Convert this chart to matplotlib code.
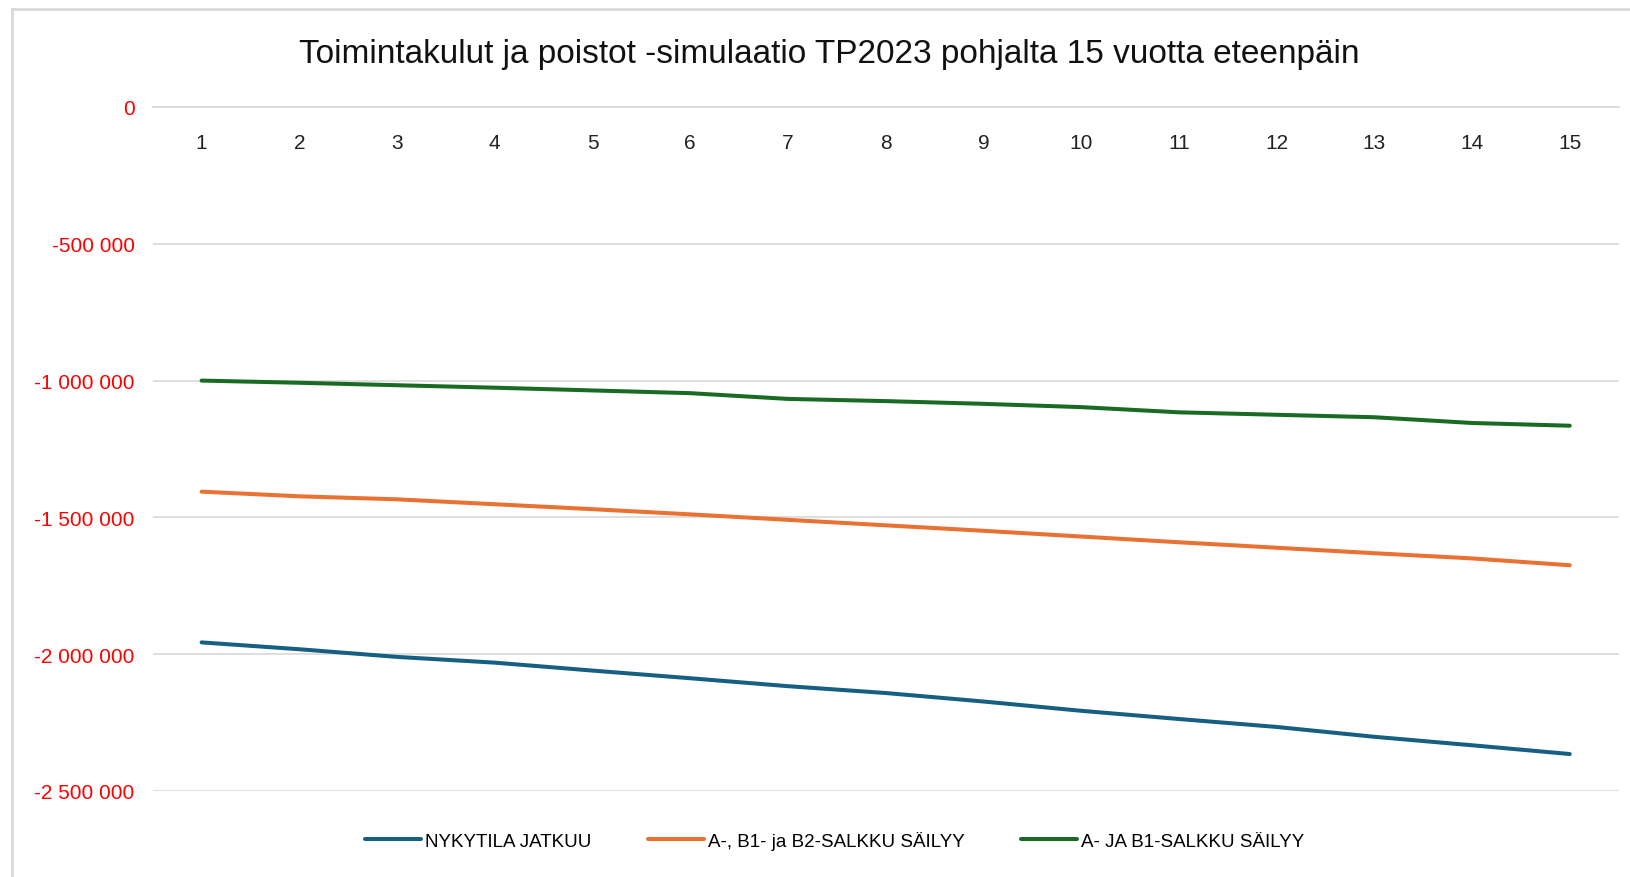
import matplotlib.pyplot as plt
from matplotlib.ticker import FuncFormatter

plt.rcParams['font.family'] = ['Liberation Sans', 'DejaVu Sans']

years = list(range(1, 16))
nykytila = [-1957000, -1982000, -2010000, -2031000, -2060000, -2088000, -2117000, -2142000,
            -2173000, -2207000, -2237000, -2266000, -2302000, -2333000, -2365000]
a_b1_b2 = [-1406000, -1423000, -1434000, -1452000, -1470000, -1489000, -1509000, -1529000,
           -1549000, -1570000, -1591000, -1611000, -1631000, -1650000, -1675000]
a_b1 = [-1000000, -1008000, -1017000, -1026000, -1036000, -1046000, -1067000, -1075000,
        -1085000, -1097000, -1116000, -1125000, -1134000, -1155000, -1165000]

labels = ['NYKYTILA JATKUU', 'A-, B1- ja B2-SALKKU SÄILYY', 'A- JA B1-SALKKU SÄILYY']
colors = ['#156082', '#E97132', '#196B24']
y_ticks = [0, -500000, -1000000, -1500000, -2000000, -2500000]

fig = plt.figure(figsize=(16.3, 8.78), dpi=100)
ax = fig.add_axes([0.0937, 0.098, 0.993 - 0.0937, 0.877 - 0.098])

for vals, lab, col in zip([nykytila, a_b1_b2, a_b1], labels, colors):
    ax.plot(years, vals, color=col, lw=2.9, label=lab, solid_capstyle='round')

ax.set_xlim(0.5, 15.5)
ax.set_ylim(-2500000, 0)
ax.set_yticks(y_ticks)
ax.yaxis.set_major_formatter(FuncFormatter(lambda v, p: f'{int(v):,}'.replace(',', ' ')))
ax.set_xticks(years)

# category axis sits at y=0 (top), labels below it like in Excel
ax.spines['bottom'].set_position(('data', 0))
ax.spines['bottom'].set_color('#D9D9D9')
ax.spines['bottom'].set_linewidth(1.2)
for s in ['top', 'left', 'right']:
    ax.spines[s].set_visible(False)

ax.grid(axis='y', color='#D9D9D9', lw=1.2)
ax.set_axisbelow(True)
ax.tick_params(axis='y', length=0, pad=13, labelsize=15, labelcolor='#FF0000')
ax.tick_params(axis='x', length=0, pad=19, labelsize=15, labelcolor='#222222')

fig.text(0.509, 0.938, 'Toimintakulut ja poistot -simulaatio TP2023 pohjalta 15 vuotta eteenpäin',
         ha='center', va='center', fontsize=24, color='#111111')

fig.legend(loc='center', bbox_to_anchor=(0.512, 0.042), ncol=3, frameon=False,
           fontsize=13.5, handlelength=3.0, handletextpad=0.2, columnspacing=3.0)

# chart border
fig.add_artist(plt.Line2D([12 / 1630, 12 / 1630], [0, 1 - 10 / 878], transform=fig.transFigure,
                          color='#D9D9D9', lw=2))
fig.add_artist(plt.Line2D([12 / 1630, 1], [1 - 10 / 878, 1 - 10 / 878], transform=fig.transFigure,
                          color='#D9D9D9', lw=2))

fig.savefig('out.png', dpi=100)
